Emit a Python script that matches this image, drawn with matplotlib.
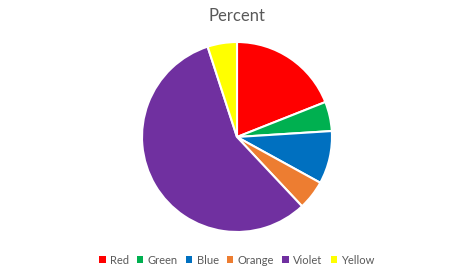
import matplotlib.pyplot as plt
from matplotlib.patches import Patch

# data
labels = ['Red', 'Green', 'Blue', 'Orange', 'Violet', 'Yellow']
percent = [19, 5, 9, 5, 57, 5]
colors = ['#FF0000', '#00B050', '#0070C0', '#ED7D31', '#7030A0', '#FFFF00']

W, H = 472, 273
fig = plt.figure(figsize=(W / 100, H / 100), dpi=100)
plt.rcParams['font.family'] = ['Lato', 'DejaVu Sans']

cx, cy, r = 237, 137, 95
ax = fig.add_axes([(cx - r) / W, (H - cy - r) / H, 2 * r / W, 2 * r / H])
ax.pie(percent, colors=colors, startangle=90, counterclock=False,
       wedgeprops={'edgecolor': 'white', 'linewidth': 1.5})
ax.set_xlim(-1, 1)
ax.set_ylim(-1, 1)
ax.set_aspect('equal')
ax.axis('off')

fig.text(cx / W, 1 - 16 / H, 'Percent', ha='center', va='center',
         fontsize=12, color='#595959')

handles = [Patch(facecolor=c, edgecolor='none') for c in colors]
fig.legend(handles, labels, loc='center', bbox_to_anchor=(cx / W, 1 - 260 / H),
           ncol=6, frameon=False, fontsize=8, labelcolor='#595959',
           handlelength=0.55, handleheight=0.55, handletextpad=0.4,
           columnspacing=0.75)

fig.savefig('out.png', dpi=100)
